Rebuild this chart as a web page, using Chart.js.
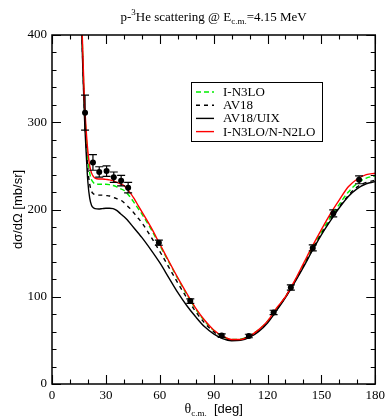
<!DOCTYPE html>
<html>
<head>
<meta charset="utf-8">
<script src="https://cdn.jsdelivr.net/npm/chart.js@4.4.1/dist/chart.umd.min.js"></script>
<style>
    html, body { margin: 0; padding: 0; background: #fff; }
    #wrap { width: 389px; height: 417px; }
</style>
</head>
<body>
<div id="wrap"><canvas id="xsec"></canvas></div>
<script>
// angles (deg) at which the calculated curves are sampled
const curveAngles = [15, 16, 17, 18, 19, 20, 21, 22, 23, 24,
    26, 28, 30, 32, 34, 36, 38, 40, 42, 44, 46, 48, 50,
    55, 60, 65, 70, 75, 80, 85, 90, 95, 100, 105, 110, 115, 120, 125,
    130, 135, 140, 145, 150, 155, 160, 165, 170, 175, 180];

const in3lo = [555, 455, 385, 322, 285, 257, 242, 234, 231, 229.5,
    229, 229, 229, 228.5, 227.5, 226, 224, 222, 218, 213, 207, 201, 195,
    178, 159, 140, 121, 103, 86, 72, 61.5, 54.5, 51, 51.5, 55.5, 62, 72, 86,
    100, 117, 136, 156, 174, 191, 206, 220, 230, 236, 238.5];

const av18 = [550, 450, 378, 316, 276, 245, 229, 221, 218, 217,
    216.5, 216.5, 216, 215.5, 214, 212.5, 211, 208, 204, 200, 195, 190, 185,
    169, 152, 134, 116, 99, 83, 70, 60, 53.5, 50.5, 51, 54.5, 61, 71, 85,
    100, 117, 135, 154, 172, 188, 203, 216, 226, 231, 233.5];

const av18uix = [545, 445, 372, 310, 266, 231, 213, 205, 202, 201,
    200.5, 201, 201.5, 201.5, 201, 199, 195.5, 192, 188, 183, 178, 173, 168,
    154, 139, 122, 105, 90, 77, 65.5, 57.5, 52, 49.5, 50, 53.5, 60, 70, 84,
    99, 116, 134, 153, 171, 187, 202, 215, 224, 229.5, 232];

const in3loNn2lo = [560, 460, 390, 328, 292, 266, 250, 242, 238, 236,
    235, 235, 234.5, 234, 233, 231, 229.5, 227.5, 223, 218, 211.5, 204.5, 197.5,
    180, 160.5, 141, 122, 104, 87, 73, 62, 55, 51, 51, 55, 62, 72, 87,
    100, 118, 138, 158, 177, 195, 211, 226, 235, 240, 241.5];

// measured cross section
const expAngles = [18.4, 22.8, 26.3, 30.4, 34.4, 38.5, 42.4, 59.5, 77.0, 94.5,
    109.6, 123.4, 133.0, 145.2, 156.6, 171.0];
const expValues = [311, 254, 243, 244, 237, 233, 225, 162, 95, 55.5,
    55, 82, 110.5, 156, 195.5, 234];
const expErrors = [20, 9, 6, 6, 6, 6, 6, 3, 2.5, 2,
    2, 2.5, 3, 3.5, 4, 4.5];

const xTicks = [0, 30, 60, 90, 120, 150, 180];
const yTicks = [0, 100, 200, 300, 400];

const serif = "'Liberation Serif', 'Times New Roman', serif";
const sans = "'Liberation Sans', Arial, sans-serif";

function toPoints(xs, ys) {
    return xs.map((x, i) => ({ x: x, y: ys[i] }));
}

function curve(label, values, color, dash, order) {
    return {
        label: label,
        data: toPoints(curveAngles, values),
        borderColor: color,
        borderWidth: 1.4,
        borderDash: dash,
        pointRadius: 0,
        cubicInterpolationMode: "monotone",
        fill: false,
        order: order,
        inLegend: true
    };
}

// draw pieces of text with super/subscripts, returns width
function richText(ctx, parts, x, y, measureOnly) {
    let cx = x;
    for (const p of parts) {
        ctx.font = p.font;
        const w = ctx.measureText(p.t).width;
        if (!measureOnly) ctx.fillText(p.t, cx, y + (p.dy || 0));
        cx += w;
    }
    return cx - x;
}

const decorPlugin = {
    id: "decor",
    afterDatasetsDraw(chart) {
        const { ctx, scales: { x, y } } = chart;
        // error bars
        ctx.save();
        ctx.strokeStyle = "#000";
        ctx.lineWidth = 1.2;
        for (let i = 0; i < expAngles.length; i++) {
            const px = x.getPixelForValue(expAngles[i]);
            const top = y.getPixelForValue(expValues[i] + expErrors[i]);
            const bot = y.getPixelForValue(expValues[i] - expErrors[i]);
            ctx.beginPath();
            ctx.moveTo(px, top); ctx.lineTo(px, bot);
            ctx.moveTo(px - 4, top); ctx.lineTo(px + 4, top);
            ctx.moveTo(px - 4, bot); ctx.lineTo(px + 4, bot);
            ctx.stroke();
        }
        ctx.restore();
    },
    afterDraw(chart) {
        const { ctx, chartArea: a, scales: { x, y } } = chart;
        ctx.save();
        ctx.strokeStyle = "#000";

        // inward ticks on all four sides
        ctx.lineWidth = 1.1;
        ctx.beginPath();
        for (let v = 0; v <= 180; v += 10) {
            const px = Math.round(x.getPixelForValue(v)) + 0.5;
            const len = v % 30 === 0 ? 9 : 4.5;
            ctx.moveTo(px, a.bottom); ctx.lineTo(px, a.bottom - len);
            ctx.moveTo(px, a.top); ctx.lineTo(px, a.top + len);
        }
        for (let v = 0; v <= 400; v += 20) {
            const py = Math.round(y.getPixelForValue(v)) + 0.5;
            const len = v % 100 === 0 ? 9 : 4.5;
            ctx.moveTo(a.left, py); ctx.lineTo(a.left + len, py);
            ctx.moveTo(a.right, py); ctx.lineTo(a.right - len, py);
        }
        ctx.stroke();

        // frame
        ctx.lineWidth = 1.5;
        ctx.strokeRect(a.left, a.top, a.right - a.left, a.bottom - a.top);

        // legend
        const lx = 191, ly = 82, lw = 131, lh = 59;
        ctx.fillStyle = "#fff";
        ctx.fillRect(lx, ly, lw, lh);
        ctx.lineWidth = 1;
        ctx.strokeRect(lx + 0.5, ly + 0.5, lw, lh);
        const items = chart.data.datasets.filter(d => d.inLegend);
        ctx.font = "13px " + serif;
        ctx.textBaseline = "middle";
        items.forEach((d, i) => {
            const ry = ly + 10 + i * 13.2;
            ctx.strokeStyle = d.borderColor;
            ctx.lineWidth = 1.4;
            ctx.setLineDash(d.borderDash || []);
            ctx.beginPath();
            ctx.moveTo(196, ry); ctx.lineTo(214, ry);
            ctx.stroke();
            ctx.setLineDash([]);
            ctx.fillStyle = "#000";
            ctx.fillText(d.label, 223, ry + 0.5);
        });

        // title
        ctx.textBaseline = "alphabetic";
        ctx.fillStyle = "#000";
        const title = [
            { t: "p-", font: "13px " + serif },
            { t: "3", font: "9px " + serif, dy: -6 },
            { t: "He scattering @ E", font: "13px " + serif },
            { t: "c.m.", font: "9px " + serif, dy: 3 },
            { t: "=4.15 MeV", font: "13px " + serif }
        ];
        const tw = richText(ctx, title, 0, 0, true);
        richText(ctx, title, (a.left + a.right) / 2 - tw / 2, 21);

        // x axis title
        const xt = [
            { t: "\u03b8", font: "14px " + serif },
            { t: "c.m.", font: "9px " + serif, dy: 3 },
            { t: "  [deg]", font: "13px " + sans }
        ];
        const xw = richText(ctx, xt, 0, 0, true);
        richText(ctx, xt, (a.left + a.right) / 2 - xw / 2, 413);

        // y axis title
        ctx.translate(21.5, (a.top + a.bottom) / 2);
        ctx.rotate(-Math.PI / 2);
        ctx.font = "13px " + sans;
        ctx.textAlign = "center";
        ctx.fillText("d\u03c3/d\u03a9 [mb/sr]", 0, 0);
        ctx.restore();
    }
};

new Chart(document.getElementById("xsec").getContext("2d"), {
    type: "line",
    data: {
        datasets: [
            curve("I-N3LO", in3lo, "#00ee00", [5, 3], 3),
            curve("AV18", av18, "#000000", [4, 4], 2),
            curve("AV18/UIX", av18uix, "#000000", [], 1),
            curve("I-N3LO/N-N2LO", in3loNn2lo, "#ff0000", [], 0),
            {
                label: "data",
                data: toPoints(expAngles, expValues),
                showLine: false,
                pointRadius: 3,
                pointBackgroundColor: "#000",
                pointBorderColor: "#000",
                pointBorderWidth: 0,
                order: -1
            }
        ]
    },
    options: {
        responsive: true,
        maintainAspectRatio: false,
        animation: false,
        events: [],
        layout: { padding: { top: 35, right: 11, left: 0, bottom: 0 } },
        plugins: {
            legend: { display: false },
            tooltip: { enabled: false },
            title: { display: false }
        },
        scales: {
            x: {
                type: "linear",
                min: 0,
                max: 180,
                afterFit: s => { s.height = 33; },
                afterBuildTicks: s => { s.ticks = xTicks.map(v => ({ value: v })); },
                grid: { display: false, drawTicks: false },
                border: { display: false },
                ticks: {
                    padding: 4,
                    color: "#000",
                    maxRotation: 0,
                    font: { family: serif, size: 13 }
                }
            },
            y: {
                min: 0,
                max: 400,
                afterFit: s => { s.width = 52; },
                afterBuildTicks: s => { s.ticks = yTicks.map(v => ({ value: v })); },
                grid: { display: false, drawTicks: false },
                border: { display: false },
                ticks: {
                    padding: 5,
                    color: "#000",
                    font: { family: serif, size: 13 }
                }
            }
        }
    },
    plugins: [decorPlugin]
});
</script>
</body>
</html>
